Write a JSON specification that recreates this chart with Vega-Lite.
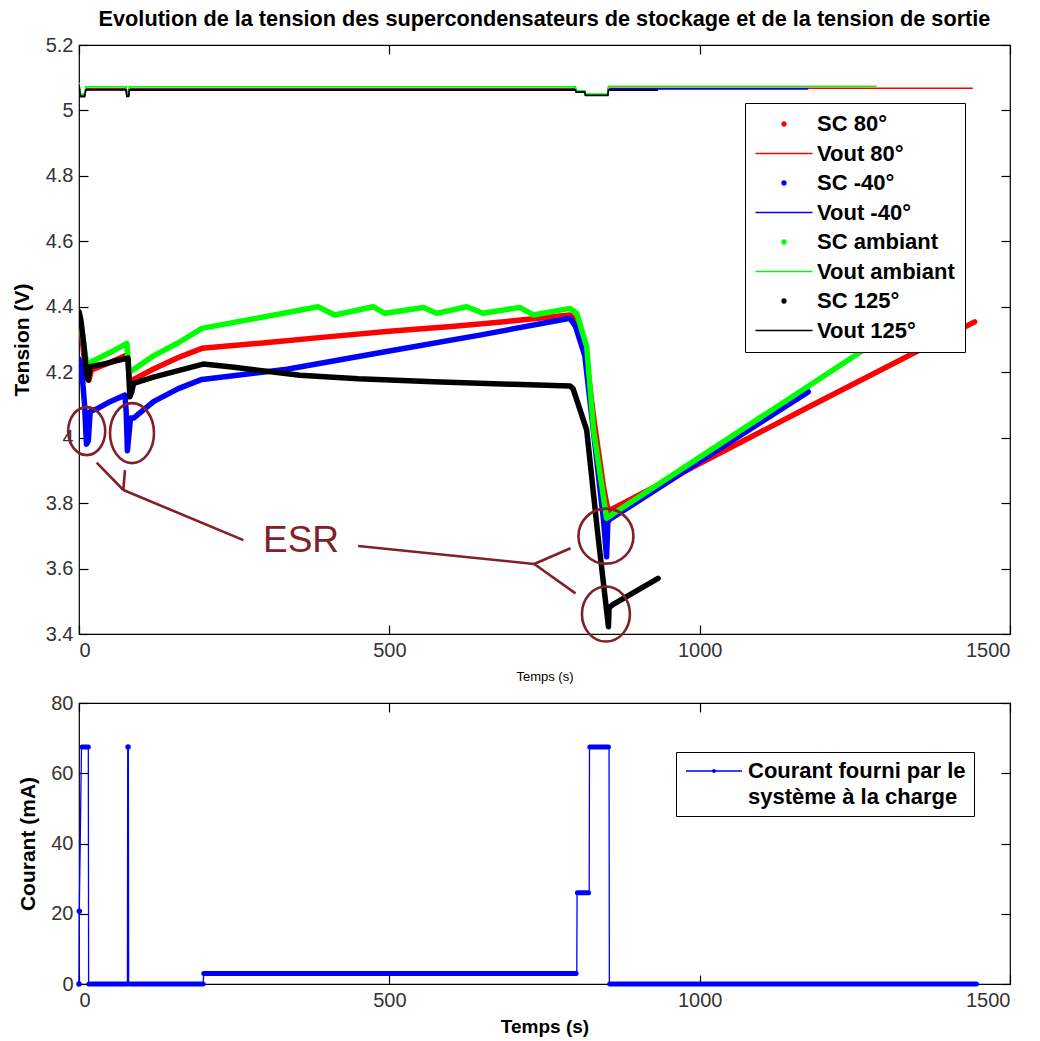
{
  "$schema": "https://vega.github.io/schema/vega-lite/v6.json",
  "background": "white",
  "padding": {"left": 10, "top": 8, "right": 5, "bottom": 5},
  "spacing": 69,
  "bounds": "flush",
  "resolve": {"scale": {"color": "independent"}, "legend": {"color": "independent"}},
  "config": {
    "font": "Liberation Sans",
    "view": {"stroke": "#000", "strokeWidth": 1.2},
    "axis": {
      "grid": false, "domain": false, "tickColor": "#000", "tickSize": -9, "tickWidth": 1.2,
      "labelFont": "Liberation Sans", "labelFontSize": 20, "labelColor": "#333",
      "titleFont": "Liberation Sans", "titleColor": "#000"
    }
  },
  "datasets": {
    "sc": [
      {"series": "SC 80°", "t": 0, "V": 4.36}, {"series": "SC 80°", "t": 3, "V": 4.34}, {"series": "SC 80°", "t": 8, "V": 4.25}, {"series": "SC 80°", "t": 13, "V": 4.18}, {"series": "SC 80°", "t": 16, "V": 4.176}, {"series": "SC 80°", "t": 20, "V": 4.207}, {"series": "SC 80°", "t": 40, "V": 4.222}, {"series": "SC 80°", "t": 60, "V": 4.238}, {"series": "SC 80°", "t": 77, "V": 4.253}, {"series": "SC 80°", "t": 79, "V": 4.23}, {"series": "SC 80°", "t": 81, "V": 4.18}, {"series": "SC 80°", "t": 85, "V": 4.175}, {"series": "SC 80°", "t": 120, "V": 4.21}, {"series": "SC 80°", "t": 160, "V": 4.245}, {"series": "SC 80°", "t": 198, "V": 4.273}, {"series": "SC 80°", "t": 300, "V": 4.29}, {"series": "SC 80°", "t": 400, "V": 4.308}, {"series": "SC 80°", "t": 500, "V": 4.325}, {"series": "SC 80°", "t": 600, "V": 4.34}, {"series": "SC 80°", "t": 700, "V": 4.357}, {"series": "SC 80°", "t": 791, "V": 4.375}, {"series": "SC 80°", "t": 800, "V": 4.36}, {"series": "SC 80°", "t": 815, "V": 4.28}, {"series": "SC 80°", "t": 830, "V": 4.05}, {"series": "SC 80°", "t": 845, "V": 3.85}, {"series": "SC 80°", "t": 853, "V": 3.77}, {"series": "SC 80°", "t": 856, "V": 3.779}, {"series": "SC 80°", "t": 1174, "V": 4.092}, {"series": "SC 80°", "t": 1443, "V": 4.354},
      {"series": "SC -40°", "t": 0, "V": 4.24}, {"series": "SC -40°", "t": 3, "V": 4.22}, {"series": "SC -40°", "t": 6, "V": 4.17}, {"series": "SC -40°", "t": 9, "V": 4.1}, {"series": "SC -40°", "t": 12, "V": 3.98}, {"series": "SC -40°", "t": 15, "V": 3.99}, {"series": "SC -40°", "t": 18, "V": 4.08}, {"series": "SC -40°", "t": 31, "V": 4.09}, {"series": "SC -40°", "t": 50, "V": 4.11}, {"series": "SC -40°", "t": 74, "V": 4.13}, {"series": "SC -40°", "t": 76, "V": 4.08}, {"series": "SC -40°", "t": 78, "V": 3.96}, {"series": "SC -40°", "t": 80, "V": 4.0}, {"series": "SC -40°", "t": 83, "V": 4.06}, {"series": "SC -40°", "t": 88, "V": 4.06}, {"series": "SC -40°", "t": 120, "V": 4.11}, {"series": "SC -40°", "t": 160, "V": 4.15}, {"series": "SC -40°", "t": 198, "V": 4.178}, {"series": "SC -40°", "t": 335, "V": 4.209}, {"series": "SC -40°", "t": 500, "V": 4.265}, {"series": "SC -40°", "t": 650, "V": 4.315}, {"series": "SC -40°", "t": 791, "V": 4.365}, {"series": "SC -40°", "t": 800, "V": 4.34}, {"series": "SC -40°", "t": 815, "V": 4.25}, {"series": "SC -40°", "t": 830, "V": 4.0}, {"series": "SC -40°", "t": 845, "V": 3.75}, {"series": "SC -40°", "t": 850, "V": 3.636}, {"series": "SC -40°", "t": 852, "V": 3.74}, {"series": "SC -40°", "t": 855, "V": 3.75}, {"series": "SC -40°", "t": 1175, "V": 4.14},
      {"series": "SC ambiant", "t": 0, "V": 4.36}, {"series": "SC ambiant", "t": 3, "V": 4.35}, {"series": "SC ambiant", "t": 8, "V": 4.28}, {"series": "SC ambiant", "t": 13, "V": 4.22}, {"series": "SC ambiant", "t": 17, "V": 4.225}, {"series": "SC ambiant", "t": 20, "V": 4.232}, {"series": "SC ambiant", "t": 50, "V": 4.26}, {"series": "SC ambiant", "t": 77, "V": 4.288}, {"series": "SC ambiant", "t": 79, "V": 4.24}, {"series": "SC ambiant", "t": 81, "V": 4.2}, {"series": "SC ambiant", "t": 85, "V": 4.205}, {"series": "SC ambiant", "t": 120, "V": 4.25}, {"series": "SC ambiant", "t": 160, "V": 4.29}, {"series": "SC ambiant", "t": 198, "V": 4.334}, {"series": "SC ambiant", "t": 385, "V": 4.4}, {"series": "SC ambiant", "t": 412, "V": 4.375}, {"series": "SC ambiant", "t": 474, "V": 4.4}, {"series": "SC ambiant", "t": 493, "V": 4.38}, {"series": "SC ambiant", "t": 555, "V": 4.398}, {"series": "SC ambiant", "t": 576, "V": 4.38}, {"series": "SC ambiant", "t": 625, "V": 4.4}, {"series": "SC ambiant", "t": 651, "V": 4.38}, {"series": "SC ambiant", "t": 710, "V": 4.398}, {"series": "SC ambiant", "t": 732, "V": 4.375}, {"series": "SC ambiant", "t": 791, "V": 4.395}, {"series": "SC ambiant", "t": 802, "V": 4.38}, {"series": "SC ambiant", "t": 818, "V": 4.278}, {"series": "SC ambiant", "t": 829, "V": 4.023}, {"series": "SC ambiant", "t": 850, "V": 3.754}, {"series": "SC ambiant", "t": 1264, "V": 4.268}, {"series": "SC ambiant", "t": 1285, "V": 4.295},
      {"series": "SC 125°", "t": 0, "V": 4.385}, {"series": "SC 125°", "t": 3, "V": 4.36}, {"series": "SC 125°", "t": 8, "V": 4.28}, {"series": "SC 125°", "t": 12, "V": 4.2}, {"series": "SC 125°", "t": 15, "V": 4.176}, {"series": "SC 125°", "t": 18, "V": 4.217}, {"series": "SC 125°", "t": 40, "V": 4.225}, {"series": "SC 125°", "t": 60, "V": 4.235}, {"series": "SC 125°", "t": 79, "V": 4.243}, {"series": "SC 125°", "t": 80, "V": 4.2}, {"series": "SC 125°", "t": 82, "V": 4.125}, {"series": "SC 125°", "t": 85, "V": 4.14}, {"series": "SC 125°", "t": 88, "V": 4.166}, {"series": "SC 125°", "t": 120, "V": 4.185}, {"series": "SC 125°", "t": 160, "V": 4.205}, {"series": "SC 125°", "t": 200, "V": 4.225}, {"series": "SC 125°", "t": 250, "V": 4.215}, {"series": "SC 125°", "t": 356, "V": 4.191}, {"series": "SC 125°", "t": 450, "V": 4.18}, {"series": "SC 125°", "t": 571, "V": 4.171}, {"series": "SC 125°", "t": 700, "V": 4.163}, {"series": "SC 125°", "t": 791, "V": 4.158}, {"series": "SC 125°", "t": 796, "V": 4.15}, {"series": "SC 125°", "t": 818, "V": 4.023}, {"series": "SC 125°", "t": 835, "V": 3.72}, {"series": "SC 125°", "t": 853, "V": 3.422}, {"series": "SC 125°", "t": 854, "V": 3.48}, {"series": "SC 125°", "t": 860, "V": 3.49}, {"series": "SC 125°", "t": 933, "V": 3.57}
    ],
    "vout": [
      {"series": "Vout 80°", "t": 0, "V": 5.07}, {"series": "Vout 80°", "t": 2, "V": 5.045}, {"series": "Vout 80°", "t": 9, "V": 5.045}, {"series": "Vout 80°", "t": 11, "V": 5.066}, {"series": "Vout 80°", "t": 76, "V": 5.066}, {"series": "Vout 80°", "t": 77, "V": 5.045}, {"series": "Vout 80°", "t": 80, "V": 5.045}, {"series": "Vout 80°", "t": 81, "V": 5.066}, {"series": "Vout 80°", "t": 800, "V": 5.066}, {"series": "Vout 80°", "t": 801, "V": 5.058}, {"series": "Vout 80°", "t": 815, "V": 5.058}, {"series": "Vout 80°", "t": 816, "V": 5.048}, {"series": "Vout 80°", "t": 852, "V": 5.048}, {"series": "Vout 80°", "t": 853, "V": 5.068}, {"series": "Vout 80°", "t": 1440, "V": 5.068},
      {"series": "Vout -40°", "t": 0, "V": 5.075}, {"series": "Vout -40°", "t": 2, "V": 5.048}, {"series": "Vout -40°", "t": 9, "V": 5.048}, {"series": "Vout -40°", "t": 11, "V": 5.064}, {"series": "Vout -40°", "t": 76, "V": 5.064}, {"series": "Vout -40°", "t": 77, "V": 5.047}, {"series": "Vout -40°", "t": 80, "V": 5.047}, {"series": "Vout -40°", "t": 81, "V": 5.064}, {"series": "Vout -40°", "t": 800, "V": 5.064}, {"series": "Vout -40°", "t": 801, "V": 5.057}, {"series": "Vout -40°", "t": 815, "V": 5.057}, {"series": "Vout -40°", "t": 816, "V": 5.047}, {"series": "Vout -40°", "t": 852, "V": 5.047}, {"series": "Vout -40°", "t": 853, "V": 5.066}, {"series": "Vout -40°", "t": 1175, "V": 5.066},
      {"series": "Vout ambiant", "t": 0, "V": 5.085}, {"series": "Vout ambiant", "t": 2, "V": 5.05}, {"series": "Vout ambiant", "t": 9, "V": 5.05}, {"series": "Vout ambiant", "t": 11, "V": 5.072}, {"series": "Vout ambiant", "t": 76, "V": 5.072}, {"series": "Vout ambiant", "t": 77, "V": 5.05}, {"series": "Vout ambiant", "t": 80, "V": 5.05}, {"series": "Vout ambiant", "t": 81, "V": 5.072}, {"series": "Vout ambiant", "t": 800, "V": 5.072}, {"series": "Vout ambiant", "t": 801, "V": 5.06}, {"series": "Vout ambiant", "t": 815, "V": 5.06}, {"series": "Vout ambiant", "t": 816, "V": 5.05}, {"series": "Vout ambiant", "t": 852, "V": 5.05}, {"series": "Vout ambiant", "t": 853, "V": 5.074}, {"series": "Vout ambiant", "t": 1285, "V": 5.074},
      {"series": "Vout 125°", "t": 0, "V": 5.08}, {"series": "Vout 125°", "t": 2, "V": 5.042}, {"series": "Vout 125°", "t": 9, "V": 5.042}, {"series": "Vout 125°", "t": 11, "V": 5.063}, {"series": "Vout 125°", "t": 76, "V": 5.063}, {"series": "Vout 125°", "t": 77, "V": 5.043}, {"series": "Vout 125°", "t": 80, "V": 5.043}, {"series": "Vout 125°", "t": 81, "V": 5.062}, {"series": "Vout 125°", "t": 800, "V": 5.062}, {"series": "Vout 125°", "t": 801, "V": 5.056}, {"series": "Vout 125°", "t": 815, "V": 5.056}, {"series": "Vout 125°", "t": 816, "V": 5.046}, {"series": "Vout 125°", "t": 852, "V": 5.046}, {"series": "Vout 125°", "t": 853, "V": 5.062}, {"series": "Vout 125°", "t": 933, "V": 5.062}
    ],
    "esr_lines": [
      {"t": 264.9, "V": 3.687, "t2": 71.4, "V2": 3.84},
      {"t": 71.4, "V": 3.84, "t2": 28.5, "V2": 3.924},
      {"t": 71.4, "V": 3.84, "t2": 74.1, "V2": 3.901},
      {"t": 449.8, "V": 3.669, "t2": 733.4, "V2": 3.614},
      {"t": 733.4, "V": 3.614, "t2": 792, "V2": 3.662},
      {"t": 733.4, "V": 3.614, "t2": 800, "V2": 3.524}
    ],
    "esr_ellipses": [
      {"id": "E1", "t": 12.4, "V": 4.02},
      {"id": "E2", "t": 85.4, "V": 4.014},
      {"id": "E3", "t": 849, "V": 3.699},
      {"id": "E4", "t": 849, "V": 3.461}
    ],
    "esr_text": [{"label": "ESR", "t": 357.7, "V": 3.684}],
    "courant_line": [
      {"serie": "Courant fourni par le système à la charge", "t": 0, "I": 0}, {"serie": "Courant fourni par le système à la charge", "t": 0.5, "I": 20.7}, {"serie": "Courant fourni par le système à la charge", "t": 4, "I": 67.5}, {"serie": "Courant fourni par le système à la charge", "t": 15, "I": 67.5}, {"serie": "Courant fourni par le système à la charge", "t": 15.5, "I": 0}, {"serie": "Courant fourni par le système à la charge", "t": 78, "I": 0}, {"serie": "Courant fourni par le système à la charge", "t": 78.5, "I": 67.5}, {"serie": "Courant fourni par le système à la charge", "t": 79.5, "I": 67.5}, {"serie": "Courant fourni par le système à la charge", "t": 80, "I": 0}, {"serie": "Courant fourni par le système à la charge", "t": 200, "I": 0}, {"serie": "Courant fourni par le système à la charge", "t": 201, "I": 3}, {"serie": "Courant fourni par le système à la charge", "t": 802, "I": 3}, {"serie": "Courant fourni par le système à la charge", "t": 802.5, "I": 26}, {"serie": "Courant fourni par le système à la charge", "t": 822, "I": 26}, {"serie": "Courant fourni par le système à la charge", "t": 822.5, "I": 67.5}, {"serie": "Courant fourni par le système à la charge", "t": 854, "I": 67.5}, {"serie": "Courant fourni par le système à la charge", "t": 854.5, "I": 0}, {"serie": "Courant fourni par le système à la charge", "t": 1447, "I": 0}
    ],
    "courant_seg": [
      {"seg": "p1", "t": 5, "I": 67.5}, {"seg": "p1", "t": 15, "I": 67.5},
      {"seg": "p2", "t": 16, "I": 0}, {"seg": "p2", "t": 77, "I": 0},
      {"seg": "p3", "t": 81, "I": 0}, {"seg": "p3", "t": 200, "I": 0},
      {"seg": "p4", "t": 201, "I": 3}, {"seg": "p4", "t": 801, "I": 3},
      {"seg": "p5", "t": 803, "I": 26}, {"seg": "p5", "t": 821, "I": 26},
      {"seg": "p6", "t": 823, "I": 67.5}, {"seg": "p6", "t": 853, "I": 67.5},
      {"seg": "p7", "t": 855, "I": 0}, {"seg": "p7", "t": 1446, "I": 0}
    ],
    "courant_dots": [
      {"t": 0, "I": 0}, {"t": 0.5, "I": 20.7}, {"t": 79, "I": 67.5}
    ]
  },
  "vconcat": [
    {
      "width": 931,
      "height": 589,
      "title": {"text": "Evolution de la tension des supercondensateurs de stockage et de la tension de sortie", "fontSize": 21.7, "fontWeight": "bold", "font": "Liberation Sans", "color": "#000", "anchor": "middle", "offset": 4},
      "layer": [
        {
          "data": {"name": "vout"},
          "mark": {"type": "line", "strokeWidth": 1.6, "clip": true},
          "encoding": {
            "x": {"field": "t", "type": "quantitative", "scale": {"domain": [0, 1500], "nice": false, "zero": false},
                  "axis": {"orient": "top", "labels": false, "title": null, "values": [0, 500, 1000, 1500]}},
            "y": {"field": "V", "type": "quantitative", "scale": {"domain": [3.4, 5.2], "nice": false, "zero": false},
                  "axis": {"orient": "right", "labels": false, "title": null, "values": [3.4, 3.6, 3.8, 4, 4.2, 4.4, 4.6, 4.8, 5, 5.2]}},
            "color": {"field": "series", "type": "nominal",
              "scale": {"domain": ["SC 80°", "Vout 80°", "SC -40°", "Vout -40°", "SC ambiant", "Vout ambiant", "SC 125°", "Vout 125°"],
                        "range": ["#ff0000", "#ff0000", "#0000ff", "#0000ff", "#00ff00", "#00ff00", "#000000", "#000000"]},
              "legend": {
                "title": null, "orient": "none", "legendX": 666, "legendY": 58,
                "padding": 10, "strokeColor": "#000", "fillColor": "#fff",
                "labelFont": "Liberation Sans", "labelFontSize": 22, "labelFontWeight": "bold", "labelColor": "#000", "labelLimit": 400,
                "symbolSize": 400, "symbolOffset": 18, "labelOffset": 22, "rowPadding": 7.5, "symbolStrokeWidth": 1.3,
                "encode": {"symbols": {"update": {
                  "shape": {"signal": "indexof(datum.value, 'SC') === 0 ? 'M-0.2,0A0.2,0.2 0 1,1 0.2,0A0.2,0.2 0 1,1 -0.2,0Z' : 'M-2.85,0L2.85,0'"},
                  "fill": {"signal": "indexof(datum.value, 'SC') === 0 ? (indexof(datum.value, '80') >= 0 ? '#ff0000' : indexof(datum.value, '-40') >= 0 ? '#0000ff' : indexof(datum.value, 'ambiant') >= 0 ? '#00ff00' : '#000000') : 'transparent'"},
                  "stroke": {"signal": "indexof(datum.value, '80') >= 0 ? '#ff0000' : indexof(datum.value, '-40') >= 0 ? '#0000ff' : indexof(datum.value, 'ambiant') >= 0 ? '#00ff00' : '#000000'"}
                }}}
              }
            }
          }
        },
        {
          "data": {"name": "sc"},
          "mark": {"type": "line", "strokeWidth": 5.5, "strokeJoin": "round", "strokeCap": "round", "clip": true},
          "encoding": {
            "x": {"field": "t", "type": "quantitative",
                  "axis": {"orient": "bottom", "values": [0, 500, 1000, 1500], "format": "d", "labelPadding": 15, "title": "Temps (s)", "titleFontSize": 13, "titleFontWeight": "normal", "titlePadding": 10}},
            "y": {"field": "V", "type": "quantitative",
                  "axis": {"orient": "left", "values": [3.4, 3.6, 3.8, 4, 4.2, 4.4, 4.6, 4.8, 5, 5.2], "format": "~g", "labelPadding": 15, "title": "Tension (V)", "titleFontSize": 21, "titleFontWeight": "bold", "titlePadding": 13}},
            "color": {"field": "series", "type": "nominal"}
          }
        },
        {
          "data": {"name": "esr_lines"},
          "mark": {"type": "rule", "color": "#82202a", "strokeWidth": 2.6},
          "encoding": {
            "x": {"field": "t", "type": "quantitative", "axis": null},
            "y": {"field": "V", "type": "quantitative", "axis": null},
            "x2": {"field": "t2"},
            "y2": {"field": "V2"}
          }
        },
        {
          "data": {"name": "esr_ellipses"},
          "mark": {"type": "point", "filled": false, "stroke": "#82202a", "strokeWidth": 2.6, "size": 3600, "opacity": 1},
          "encoding": {
            "x": {"field": "t", "type": "quantitative", "axis": null},
            "y": {"field": "V", "type": "quantitative", "axis": null},
            "shape": {"field": "id", "type": "nominal", "legend": null,
              "scale": {"domain": ["E1", "E2", "E3", "E4"],
                        "range": ["M-0.617,0A0.617,0.8 0 1,1 0.617,0A0.617,0.8 0 1,1 -0.617,0Z",
                                  "M-0.733,0A0.733,1 0 1,1 0.733,0A0.733,1 0 1,1 -0.733,0Z",
                                  "M-0.917,0A0.917,0.917 0 1,1 0.917,0A0.917,0.917 0 1,1 -0.917,0Z",
                                  "M-0.8,0A0.8,0.917 0 1,1 0.8,0A0.8,0.917 0 1,1 -0.8,0Z"]}}
          }
        },
        {
          "data": {"name": "esr_text"},
          "mark": {"type": "text", "color": "#82202a", "fontSize": 37, "font": "Liberation Sans", "align": "center", "baseline": "middle"},
          "encoding": {
            "x": {"field": "t", "type": "quantitative", "axis": null},
            "y": {"field": "V", "type": "quantitative", "axis": null},
            "text": {"field": "label"}
          }
        }
      ],
      "resolve": {"axis": {"x": "independent", "y": "independent"}}
    },
    {
      "width": 931,
      "height": 281,
      "layer": [
        {
          "data": {"name": "courant_line"},
          "mark": {"type": "line", "strokeWidth": 1.3},
          "encoding": {
            "x": {"field": "t", "type": "quantitative", "scale": {"domain": [0, 1500], "nice": false, "zero": false},
                  "axis": {"orient": "bottom", "values": [0, 500, 1000, 1500], "format": "d", "labelPadding": 15, "title": "Temps (s)", "titleFontSize": 19, "titleFontWeight": "bold", "titlePadding": 7}},
            "y": {"field": "I", "type": "quantitative", "scale": {"domain": [0, 80], "nice": false},
                  "axis": {"orient": "left", "values": [0, 20, 40, 60, 80], "labelPadding": 15, "title": "Courant (mA)", "titleFontSize": 21, "titleFontWeight": "bold", "titlePadding": 12.5}},
            "color": {"field": "serie", "type": "nominal",
              "scale": {"domain": ["Courant fourni par le système à la charge"], "range": ["#0000ff"]},
              "legend": {
                "title": null, "orient": "none", "legendX": 597, "legendY": 49,
                "padding": 8, "strokeColor": "#000", "fillColor": "#fff",
                "labelFont": "Liberation Sans", "labelFontSize": 22, "labelFontWeight": "bold", "labelColor": "#000", "labelLimit": 400,
                "labelExpr": "['Courant fourni par le', 'système à la charge']",
                "symbolSize": 400, "symbolOffset": 19, "labelOffset": 23, "symbolStrokeWidth": 1.3,
                "encode": {
                  "symbols": {"update": {
                    "shape": {"value": "M-2.8,0L2.8,0M-0.13,0A0.13,0.13 0 1,1 0.13,0A0.13,0.13 0 1,1 -0.13,0Z"},
                    "fill": {"value": "#0000ff"},
                    "stroke": {"value": "#0000ff"}
                  }},
                  "labels": {"update": {"lineHeight": {"value": 26}}}
                }
              }
            }
          }
        },
        {
          "data": {"name": "courant_seg"},
          "mark": {"type": "line", "strokeWidth": 5, "strokeCap": "round", "color": "#0000ff"},
          "encoding": {
            "x": {"field": "t", "type": "quantitative",
                  "axis": {"orient": "top", "labels": false, "title": null, "values": [0, 500, 1000, 1500]}},
            "y": {"field": "I", "type": "quantitative",
                  "axis": {"orient": "right", "labels": false, "title": null, "values": [0, 20, 40, 60, 80]}},
            "detail": {"field": "seg"}
          }
        },
        {
          "data": {"name": "courant_dots"},
          "mark": {"type": "point", "filled": true, "size": 30, "color": "#0000ff", "opacity": 1},
          "encoding": {
            "x": {"field": "t", "type": "quantitative", "axis": null},
            "y": {"field": "I", "type": "quantitative", "axis": null}
          }
        }
      ],
      "resolve": {"axis": {"x": "independent", "y": "independent"}}
    }
  ]
}
